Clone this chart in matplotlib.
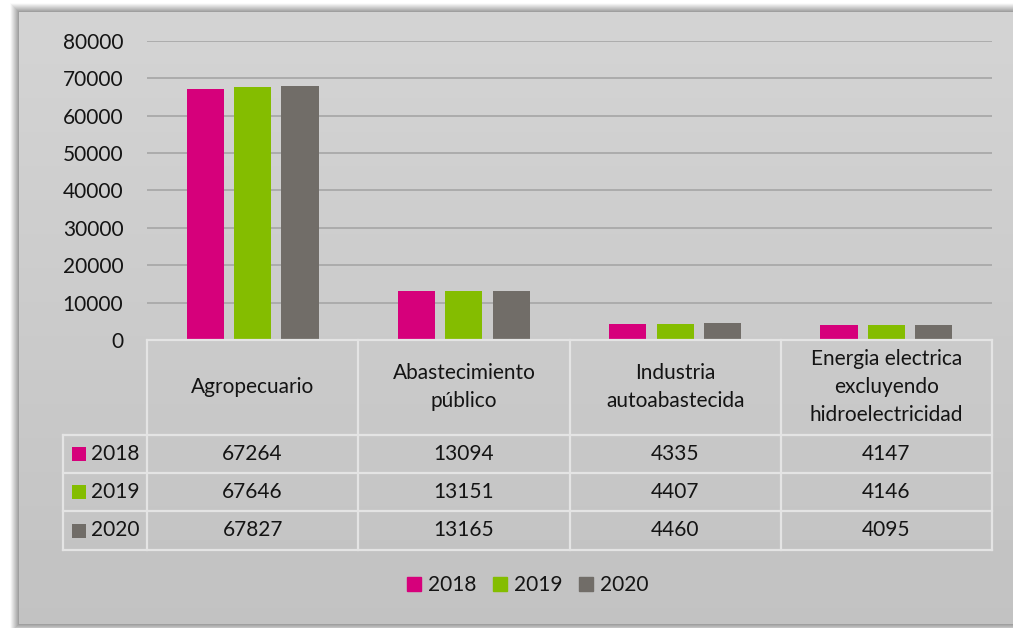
import matplotlib.pyplot as plt
import matplotlib.patches as mpatches
import numpy as np

W, H = 1013, 628

categories = ['Agropecuario', 'Abastecimiento\npúblico', 'Industria\nautoabastecida',
              'Energia electrica\nexcluyendo\nhidroelectricidad']
years = ['2018', '2019', '2020']
v2018 = [67264, 13094, 4335, 4147]
v2019 = [67646, 13151, 4407, 4146]
v2020 = [67827, 13165, 4460, 4095]
series = [v2018, v2019, v2020]
colors = ['#d6007b', '#84bd00', '#716d68']
yticks = [0, 10000, 20000, 30000, 40000, 50000, 60000, 70000, 80000]

plt.rcParams['font.family'] = ['Lato', 'DejaVu Sans']
FS = 15
TXT = '#141414'

fig = plt.figure(figsize=(W / 100, H / 100), dpi=100, facecolor='white')


def px(x, y):
    # pixel coords (top-left origin) -> figure fraction
    return x / W, 1 - y / H


# background panel with shadow and vertical gradient
bg = fig.add_axes([0, 0, 1, 1], zorder=-10)
bg.axis('off')
for k in range(9, 0, -1):
    g = 0.58 + 0.045 * k
    bg.add_patch(mpatches.Rectangle((19 - k, 12 - k), W, 612 + 2 * k, color=(g, g, g), lw=0, zorder=1))
grad = np.linspace(0.83, 0.76, 200).reshape(-1, 1)
bg.imshow(grad, cmap='gray', vmin=0, vmax=1, aspect='auto', zorder=2,
          extent=(19, W, 624, 12), interpolation='bilinear')
bg.set_xlim(0, W)
bg.set_ylim(H, 0)

# plot area
x0, x1, ytop, ybot = 147, 992, 41, 340
ax = fig.add_axes([x0 / W, 1 - ybot / H, (x1 - x0) / W, (ybot - ytop) / H])
ax.patch.set_alpha(0)
x = np.arange(len(categories))
bw = 0.176
step = 0.224
for i, (vals, c) in enumerate(zip(series, colors)):
    ax.bar(x + (i - 1) * step, vals, width=bw, color=c, zorder=3)
ax.set_xlim(-0.5, len(categories) - 0.5)
ax.set_ylim(0, 80000)
ax.set_yticks(yticks)
ax.set_yticklabels([str(t) for t in yticks], fontsize=FS, color=TXT)
ax.tick_params(axis='y', length=0, pad=17)
ax.set_xticks([])
ax.grid(axis='y', color='#a9a9a9', lw=1.3, zorder=0)
for s in ax.spines.values():
    s.set_visible(False)

# data table below the axis
tr = fig.transFigure
line_c = '#e4e4e4'
lw = 1.6
row_y = [340, 435, 473, 511, 550]
lab_x = 63
bounds = [x0 + (x1 - x0) * (b + 0.5) / len(categories) for b in np.arange(-0.5, len(categories))]

fig.add_artist(plt.Line2D(*zip(px(x0, 340), px(x1, 340)), transform=tr, color=line_c, lw=lw))
for yy in row_y[1:]:
    fig.add_artist(plt.Line2D(*zip(px(lab_x, yy), px(x1, yy)), transform=tr, color=line_c, lw=lw))
for bx in bounds:
    fig.add_artist(plt.Line2D(*zip(px(bx, 340), px(bx, 550)), transform=tr, color=line_c, lw=lw))
fig.add_artist(plt.Line2D(*zip(px(lab_x, 435), px(lab_x, 550)), transform=tr, color=line_c, lw=lw))

for i, cat in enumerate(categories):
    cx = (bounds[i] + bounds[i + 1]) / 2
    fig.text(*px(cx, 387), cat, ha='center', va='center', fontsize=FS,
             color=TXT, linespacing=1.5)

for r, (yr, vals, c) in enumerate(zip(years, series, colors)):
    cy = (row_y[r + 1] + row_y[r + 2]) / 2
    fig.add_artist(mpatches.Rectangle(px(72, cy + 7), 14 / W, 14 / H, transform=tr,
                                      color=c, lw=0))
    fig.text(*px(91, cy), yr, ha='left', va='center', fontsize=FS, color=TXT)
    for i, v in enumerate(vals):
        cx = (bounds[i] + bounds[i + 1]) / 2
        fig.text(*px(cx, cy), str(v), ha='center', va='center', fontsize=FS, color=TXT)

# legend
handles = [mpatches.Patch(color=c, label=y) for y, c in zip(years, colors)]
fig.legend(handles=handles, loc='center', bbox_to_anchor=px(528, 585), ncol=3,
           frameon=False, fontsize=FS, handlelength=0.65, handleheight=0.65,
           handletextpad=0.35, columnspacing=0.8, labelcolor=TXT)

fig.savefig('out.png', dpi=100, facecolor='white')
